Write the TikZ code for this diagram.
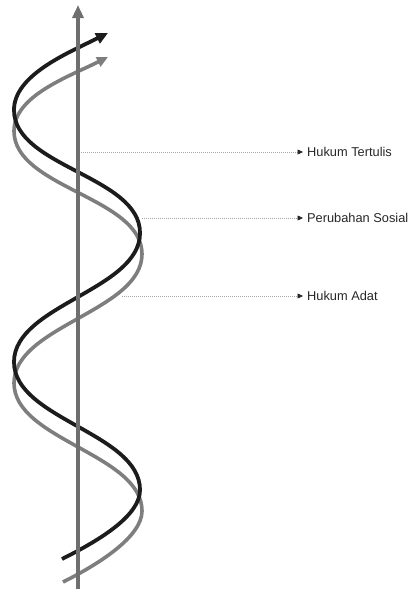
\documentclass[tikz,border=0pt]{standalone}
\usepackage{fontspec}
\setmainfont{Liberation Sans}
\usetikzlibrary{arrows.meta}
\definecolor{strandblack}{HTML}{1C1C1C}
\definecolor{strandgray}{HTML}{7E7E7E}
\definecolor{axisgray}{HTML}{6F6F6F}
\definecolor{dotgray}{HTML}{A8A8A8}
\definecolor{txtgray}{HTML}{262626}
\tikzset{
  blackstrand/.style={draw=strandblack, line width=3.8pt, line cap=butt,
    -{Triangle[length=12pt,width=11pt,color=strandblack]}},
  graystrand/.style={draw=strandgray, line width=3.6pt, line cap=butt,
    -{Triangle[length=11pt,width=10pt,color=strandgray]}},
  axisline/.style={draw=axisgray, line width=3.3pt,
    -{Triangle[length=13pt,width=11pt,color=axisgray]}},
  dotline/.style={draw=dotgray, line width=0.55pt, dash pattern=on 1pt off 1pt,
    -{Triangle[length=5.5pt,width=5pt,color=txtgray]}},
  lbl/.style={anchor=west, inner xsep=4pt, inner ysep=0pt, text height=9pt,
    text depth=0pt, font=\fontsize{12.8}{14}\selectfont, text=txtgray}
}
\begin{document}
\begin{tikzpicture}[x=1pt,y=-1pt]
\useasboundingbox (0,0) rectangle (412,589);
% strands
\coordinate (gs) at (63,582);
\coordinate (ge) at (108,57);
\coordinate (bs) at (62,559);
\coordinate (be) at (108,33);
\path[graystrand] (gs) .. controls (101,563) and (142,536) .. (142,511)
  .. controls (142,454) and (14,440) .. (14,383)
  .. controls (14,326) and (142,311) .. (142,254)
  .. controls (142,197) and (14,188) .. (14,131)
  .. controls (14,96) and (68,77) .. (ge);
\path[blackstrand] (bs) .. controls (102,539) and (140,515) .. (140,490)
  .. controls (140,433) and (14,419) .. (14,362)
  .. controls (14,305) and (140,290) .. (140,233)
  .. controls (140,176) and (14,167) .. (14,110)
  .. controls (14,75) and (68,53) .. (be);
% axis
\coordinate (axb) at (78,589);
\coordinate (axt) at (78,5);
\draw[axisline] (axb) -- (axt);
% labels
\coordinate (s1) at (81,152);
\coordinate (s2) at (142,218);
\coordinate (s3) at (122,296);
\node[lbl] (ht) at (303,152) {Hukum Tertulis};
\node[lbl] (ps) at (303,218) {Perubahan Sosial};
\node[lbl] (ha) at (303,296) {Hukum Adat};
\draw[dotline] (s1) -- (ht.west);
\draw[dotline] (s2) -- (ps.west);
\draw[dotline] (s3) -- (ha.west);
\end{tikzpicture}
\end{document}
